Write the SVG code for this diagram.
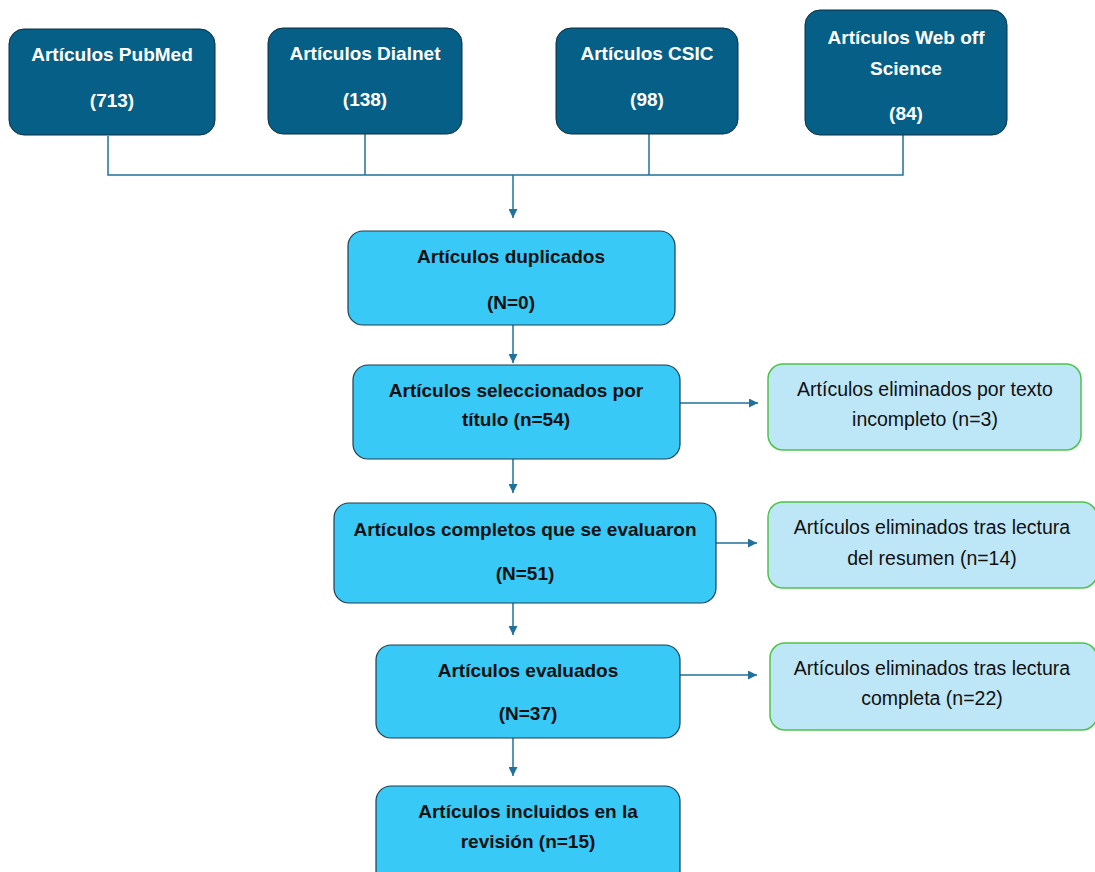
<svg xmlns="http://www.w3.org/2000/svg" width="1095" height="872" viewBox="0 0 1095 872">
<defs>
<style>
.src{fill:#065F86;stroke:#0b2f40;stroke-width:1}
.main{fill:#38C9F7;stroke:#1d3f50;stroke-width:1.2}
.side{fill:#BDE6F7;stroke:#4DC34A;stroke-width:1.5}
.tw{font-family:"Liberation Sans",Arial,sans-serif;font-size:19px;font-weight:bold;fill:#ffffff;text-anchor:middle}
.tb{font-family:"Liberation Sans",Arial,sans-serif;font-size:19px;font-weight:bold;fill:#111111;text-anchor:middle}
.ts{font-family:"Liberation Sans",Arial,sans-serif;font-size:19.5px;fill:#111111;text-anchor:middle}
.ln{fill:none;stroke:#21719A;stroke-width:1.5}
</style>
<marker id="ah" viewBox="0 0 10 10" refX="10" refY="5" markerWidth="9" markerHeight="9" markerUnits="userSpaceOnUse" orient="auto">
<path d="M0,0 L10,5 L0,10 z" fill="#21719A"/>
</marker>
</defs>
<rect width="1095" height="872" fill="#ffffff"/>
<g id="connectors">
<path class="ln" d="M108,136 V175 H903 V135"/>
<path class="ln" d="M365,134 V175"/>
<path class="ln" d="M649,134 V175"/>
<path class="ln" d="M513,175 V218" marker-end="url(#ah)"/>
<path class="ln" d="M513,325 V363" marker-end="url(#ah)"/>
<path class="ln" d="M513,459 V493" marker-end="url(#ah)"/>
<path class="ln" d="M513,603 V635" marker-end="url(#ah)"/>
<path class="ln" d="M513,738 V776" marker-end="url(#ah)"/>
<path class="ln" d="M680,403 H758" marker-end="url(#ah)"/>
<path class="ln" d="M716,543 H757" marker-end="url(#ah)"/>
<path class="ln" d="M680,675 H757" marker-end="url(#ah)"/>
</g>
<g id="pubmed">
<rect class="src" x="9" y="29" width="206" height="106" rx="15"/>
<text class="tw" x="112" y="61">Artículos PubMed</text>
<text class="tw" x="112" y="107">(713)</text>
</g>
<g id="dialnet">
<rect class="src" x="268" y="28" width="194" height="106" rx="15"/>
<text class="tw" x="365" y="60">Artículos Dialnet</text>
<text class="tw" x="365" y="106">(138)</text>
</g>
<g id="csic">
<rect class="src" x="556" y="28" width="182" height="106" rx="15"/>
<text class="tw" x="647" y="60">Artículos CSIC</text>
<text class="tw" x="647" y="106">(98)</text>
</g>
<g id="wos">
<rect class="src" x="805" y="10" width="202" height="125" rx="15"/>
<text class="tw" x="906" y="44">Artículos Web off</text>
<text class="tw" x="906" y="75">Science</text>
<text class="tw" x="906" y="120">(84)</text>
</g>
<g id="duplicados">
<rect class="main" x="348" y="231" width="327" height="94" rx="15"/>
<text class="tb" x="511" y="263">Artículos duplicados</text>
<text class="tb" x="511" y="309">(N=0)</text>
</g>
<g id="seleccionados">
<rect class="main" x="353" y="365" width="327" height="94" rx="15"/>
<text class="tb" x="516" y="397">Artículos seleccionados por</text>
<text class="tb" x="516" y="426">título (n=54)</text>
</g>
<g id="eliminados1">
<rect class="side" x="768" y="364" width="313" height="86" rx="15"/>
<text class="ts" x="925" y="396">Artículos eliminados por texto</text>
<text class="ts" x="925" y="426">incompleto (n=3)</text>
</g>
<g id="completos">
<rect class="main" x="334" y="503" width="382" height="100" rx="15"/>
<text class="tb" x="525" y="536">Artículos completos que se evaluaron</text>
<text class="tb" x="525" y="580">(N=51)</text>
</g>
<g id="eliminados2">
<rect class="side" x="768" y="502" width="329" height="86" rx="15"/>
<text class="ts" x="932" y="534">Artículos eliminados tras lectura</text>
<text class="ts" x="932" y="565">del resumen (n=14)</text>
</g>
<g id="evaluados">
<rect class="main" x="376" y="645" width="304" height="93" rx="15"/>
<text class="tb" x="528" y="677">Artículos evaluados</text>
<text class="tb" x="528" y="720">(N=37)</text>
</g>
<g id="eliminados3">
<rect class="side" x="770" y="643" width="327" height="87" rx="15"/>
<text class="ts" x="932" y="675">Artículos eliminados tras lectura</text>
<text class="ts" x="932" y="705">completa (n=22)</text>
</g>
<g id="incluidos">
<rect class="main" x="376" y="786" width="304" height="100" rx="15"/>
<text class="tb" x="528" y="818">Artículos incluidos en la</text>
<text class="tb" x="528" y="848">revisión (n=15)</text>
</g>
</svg>
